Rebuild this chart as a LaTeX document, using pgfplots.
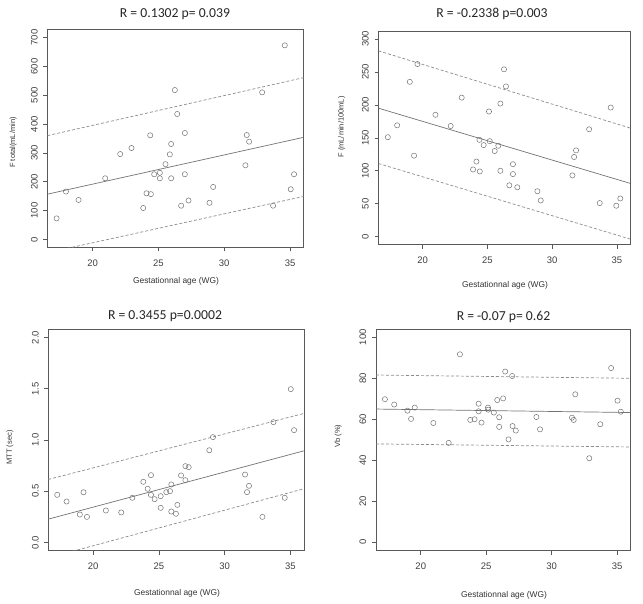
\documentclass[border=0pt]{standalone}
\usepackage{fontspec}
\setmainfont{Liberation Sans}
\newfontfamily\titlefont{Carlito}
\usepackage{pgfplots}
\pgfplotsset{compat=1.18}

\pgfplotsset{
  panel/.style={
    scale only axis, anchor=south west,
    xmin=16.58, xmax=36.02,
    xtick={20,25,30,35},
    axis line style={black!65, line width=0.6pt},
    every tick/.style={black!65, line width=0.6pt},
    tick align=outside, major tick length=4pt,
    xtick pos=left, ytick pos=left,
    ticklabel style={font=\fontsize{9.5}{10}\selectfont, text=black!75},
    /pgf/number format/assume math mode=true,
    yticklabel style={rotate=90, anchor=south, inner sep=5.5pt},
    xticklabel style={inner sep=8pt},
  },
  pts/.style={only marks, mark=o, mark size=2.6pt, mark options={draw=black!55, line width=0.5pt}},
  fitl/.style={no marks, draw=black!55, line width=0.7pt},
  cil/.style={no marks, draw=black!45, line width=0.7pt, dash pattern=on 3pt off 2pt},
}

\begin{document}
\begin{tikzpicture}[x=1pt,y=1pt]
\useasboundingbox (0pt,0pt) rectangle (643pt,603pt);

% ---------------- Panel 1
\begin{axis}[panel, at={(47.5pt,355.5pt)}, width=256pt, height=218pt,
  ymin=-28, ymax=728, ytick={0,100,...,700}]
\addplot[pts] coordinates {
(17.27,73) (17.98,166) (18.94,137) (20.96,212) (22.10,296) (22.96,317)
(23.85,109) (24.10,160) (24.38,361) (24.43,157) (24.68,226) (25.11,231)
(25.11,212) (25.54,261) (25.87,295) (25.97,331) (25.97,212) (26.25,518)
(26.43,435) (26.73,117) (27.01,369) (27.01,226) (27.29,135) (28.88,127)
(29.16,182) (31.61,257) (31.71,362) (31.89,339) (32.88,510) (33.71,117)
(34.60,673) (35.05,174) (35.30,226)};
\addplot[fitl] coordinates {(16.58,157) (36.02,354)};
\addplot[cil] coordinates {(16.58,360) (36.02,561)};
\addplot[cil] coordinates {(16.58,-46) (36.02,149)};
\end{axis}

% ---------------- Panel 2
\begin{axis}[panel, at={(378.5pt,358.4pt)}, width=251.5pt, height=213.5pt,
  ymin=-12, ymax=312, ytick={0,50,...,300}]
\addplot[pts] coordinates {
(17.30,151) (18.02,169) (19.00,235) (19.33,123) (19.59,262) (20.98,185)
(22.16,168) (23.01,211) (23.89,102) (24.15,114) (24.41,99) (24.38,147)
(24.71,139) (25.12,190) (25.18,145) (25.56,130) (25.84,138) (26.00,202)
(26.00,100) (26.28,254) (26.43,228) (26.69,78) (26.97,110) (26.97,95)
(27.31,75) (28.86,69) (29.12,55) (31.57,93) (31.70,121) (31.85,131)
(32.86,163) (33.68,51) (34.53,196) (34.96,47) (35.27,58)};
\addplot[fitl] coordinates {(16.58,195) (36.02,81)};
\addplot[cil] coordinates {(16.58,282) (36.02,165)};
\addplot[cil] coordinates {(16.58,111) (36.02,-3.5)};
\end{axis}

% ---------------- Panel 3
\begin{axis}[panel, at={(48.3pt,52.3pt)}, width=255.5pt, height=221.4pt,
  ymin=-0.08, ymax=2.08, ytick={0,0.5,...,2},
  yticklabel style={/pgf/number format/.cd, fixed, fixed zerofill, precision=1}]
\addplot[pts] coordinates {
(17.26,0.465) (17.97,0.40) (18.98,0.273) (19.26,0.49) (19.52,0.25) (20.96,0.312)
(22.13,0.293) (22.97,0.436) (23.81,0.592) (24.14,0.524) (24.39,0.657) (24.39,0.465)
(24.67,0.423) (25.13,0.452) (25.13,0.338) (25.56,0.491) (25.84,0.501) (25.94,0.566)
(25.94,0.302) (26.29,0.28) (26.40,0.367) (26.68,0.654) (27.01,0.745) (27.01,0.608)
(27.26,0.735) (28.83,0.90) (29.11,1.028) (31.55,0.663) (31.70,0.491) (31.85,0.553)
(32.87,0.25) (33.71,1.174) (34.57,0.436) (35.03,1.496) (35.28,1.096)};
\addplot[fitl] coordinates {(16.58,0.228) (36.02,0.894)};
\addplot[cil] coordinates {(16.58,0.615) (36.02,1.259)};
\addplot[cil] coordinates {(16.58,-0.15) (36.02,0.524)};
\end{axis}

% ---------------- Panel 4
\begin{axis}[panel, at={(376pt,52.5pt)}, width=254.5pt, height=221.4pt,
  ymin=-4, ymax=104, ytick={0,20,...,100}]
\addplot[pts] coordinates {
(17.26,69.8) (17.97,67.2) (18.98,64.2) (19.26,60.2) (19.54,65.7) (20.96,58.2)
(22.13,48.5) (22.99,91.7) (23.78,59.7) (24.11,60.0) (24.42,67.6) (24.42,63.9)
(24.64,58.4) (25.13,65.7) (25.15,64.7) (25.58,63.3) (25.84,69.4) (25.99,61.0)
(25.99,56.3) (26.29,70.2) (26.45,83.3) (26.70,50.2) (26.98,81.1) (27.01,56.7)
(27.26,54.5) (28.83,61.1) (29.11,55.1) (31.55,60.8) (31.68,59.7) (31.80,72.2)
(32.87,41.0) (33.71,57.6) (34.54,85.0) (35.03,69.1) (35.28,63.7)};
\addplot[fitl] coordinates {(16.58,65.0) (36.02,63.3)};
\addplot[cil] coordinates {(16.58,81.6) (36.02,80.0)};
\addplot[cil] coordinates {(16.58,48.0) (36.02,46.5)};
\end{axis}

% ---------------- Titles
\begin{scope}[every node/.style={font=\titlefont\fontsize{13.7}{16}\selectfont, text=black!85}]
\node at (175pt,589pt) {R = 0.1302 p= 0.039};
\node at (492pt,589pt) {R = -0.2338 p=0.003};
\node at (165pt,287pt) {R = 0.3455 p=0.0002};
\node at (503.5pt,286pt) {R = -0.07 p= 0.62};
\end{scope}

% ---------------- Axis labels
\begin{scope}[every node/.style={font=\fontsize{8.4}{10}\selectfont, text=black!80}]
\node at (176pt,322pt) {Gestationnal age (WG)};
\node at (505pt,318pt) {Gestationnal age (WG)};
\node at (177pt,9.7pt) {Gestationnal age (WG)};
\node at (504pt,8pt) {Gestationnal age (WG)};
\end{scope}
\begin{scope}[every node/.style={font=\fontsize{7.5}{9}\selectfont, text=black!80, rotate=90}]
\node at (13.3pt,460.5pt) {F total(mL/min)};
\node at (341.7pt,476pt) {F (mL/min/100mL)};
\node at (10pt,155.5pt) {MTT (sec)};
\node at (338.3pt,167pt) {Vb (\%)};
\end{scope}
\end{tikzpicture}
\end{document}
